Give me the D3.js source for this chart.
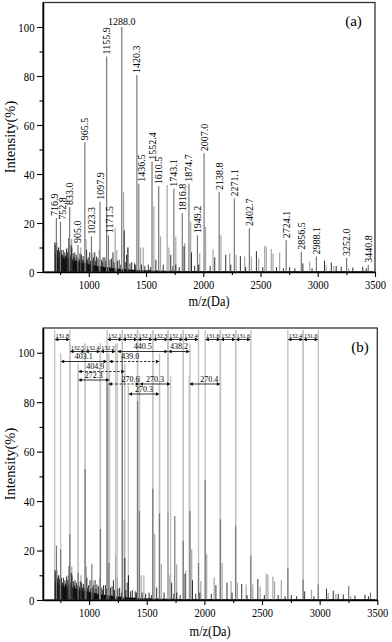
<!DOCTYPE html>
<html><head><meta charset="utf-8">
<script src="https://cdn.jsdelivr.net/npm/d3@7"></script>
<style>body{margin:0;background:#fff}svg{display:block}text{font-family:"Liberation Serif","Times New Roman",serif;fill:#000}</style>
</head><body><svg id="c" width="392" height="642"></svg>
<script>
// ---------- data ----------
const labeledMz  = [716.9,752.8,833.0,905.0,965.5,1023.3,1097.9,1155.9,1171.5,1288.0,1420.3,1436.5,1552.4,1610.5,1743.1,1816.8,1874.7,1949.2,2007.0,2138.8,2271.1,2402.7,2724.1,2856.5,2988.1,3252.0,3440.8];
const labeledInt = [22,20.5,26.5,11,53,14.5,28.7,88,15,100,80.4,36,45,35,34,24,36,15,48.5,32.7,30,18,13,8.3,6.3,5.7,3];
const labeledTxt = ["716.9","752.8","833.0","905.0","965.5","1023.3","1097.9","1155.9","1171.5","1288.0","1420.3","1436.5","1552.4","1610.5","1743.1","1816.8","1874.7","1949.2","2007.0","2138.8","2271.1","2402.7","2724.1","2856.5","2988.1","3252.0","3440.8"];

const grayMz  = [701.2,738,818,850,930,976,1035,1090,1230.1,1244,1304.0,1340.2,1452,1475,1568.6,1626,1684.5,1700,1760,1838,1890,1969,2020,2085,2154,2231,2287,2362,2420,2484,2536,2551,2594,2609,2667,2929,3074,3140,3270];
const grayInt = [12.2,10,10,13.5,10,13.5,8,9,18,9,32.5,10,10,10,26.7,14.5,35.5,10,14.4,11.8,20.5,7.7,18.5,9.2,15,7.7,7,6.3,6.3,5.5,10.6,10.3,9.4,7.6,8,4.2,2.8,2.5,1.5];

const noiseMz  = [705,712,720,727,735,745,760,770,777,790,798,805,815,826,838,845,852,864,871,878,890,898,915,923,935,943,950,958,981,988,995,1008,1015,1030,1040,1052,1060,1068,1080,1110,1118,1125,1141,1150,1185,1199,1211,1220,1250,1265,1280,1309.9,1318,1330,1342,1360,1375,1400,1410,1460,1490,1520,1540,1586,1650,1716,1735,1760,1790,1832,1897,1925,1960,2060,2100,2196,2240,2324,2370,2464,2520,2640,2700,2754,2800,2870,2950,3059,3118,3161,3205,3306,3393,3423];
const noiseInt = [12,11,12,9,10,8.5,9,7,9,8,6.5,9.5,8,13.8,7,11,10,7.6,6,8,7,6,5.5,7.6,7,5,6.5,5,9,5,6,8,4.5,5,6,8,4.5,6.3,5.5,5,4,6,6,4.5,5,5.5,8,4,4.5,5,3,17,4,7,10,3.5,4,3.5,3,3,2.5,3,2,5,3,7,2.5,3,2,10.6,8,2.5,3,2.5,6,7,3,6.5,2,8.5,2,2,1.5,2,1.5,3.5,1.5,4.6,3.8,2.5,2.2,1.8,2.2,1.5];

const envMz  = [700,701,710,718,725,732,740,748,755,763,770,778,786,794,802,810,818,826,834,842,850,858,866,874,882,890,898,906,914,922,930,938,946,954,962,970,978,986,994,1002,1010,1018,1026,1034,1042,1050,1058,1066,1074,1082,1090,1098,1106,1114,1122,1130,1138,1146,1154,1162,1170,1178,1186,1194,1202,1210,1220,1230,1240,1250,1260,1270,1280,1290,1300,1315,1330,1345,1360,1375,1390,1405,1420,1440,1460,1480,1500,1530,1560,1600,1650,1700,1800,1900,2000,2200,2500,2800,3100,3480,3481];
const envInt = [0,8,7,8.5,6,7.5,5.5,7,6,8,5,6.5,5,7,5.5,6,4.5,7,5,6.5,4.5,5.5,4,6,4.5,5,3.8,5.2,4,4.8,3.5,4.6,3.4,4.2,3.2,4.4,3,3.8,3,3.6,2.8,3.4,2.6,3.2,2.5,3,2.4,2.8,2.2,2.7,2.1,2.6,2,2.4,1.9,2.3,1.8,2.2,1.7,2.1,1.6,2,1.5,1.9,1.4,1.8,1.3,1.7,1.2,1.6,1.1,1.5,1,1.4,1,1.3,0.9,1.2,0.8,1.1,0.8,1,0.7,0.9,0.6,0.8,0.6,0.7,0.5,0.6,0.5,0.5,0.4,0.4,0.4,0.3,0.3,0.3,0.3,0.3,0];

const xTicks = [1000,1500,2000,2500,3000,3500];
const xMinor = [750,1250,1750,2250,2750,3250];
const yTicks = [0,20,40,60,80,100];
const yMinor = [10,30,50,70,90];

// annotations for panel (b): mass differences
const annFrom  = [701.2,1155.9,1288.0,1420.3,1552.4,1684.5,1816.8,2007.0,2138.8,2271.1,2724.1,2856.5, 833.0,965.5,1097.9,1244.0,1684.5, 752.8,1171.5, 905.0, 905.0,1165.9,1436.5,1868.4, 1340.2];
const annTo    = [833.0,1288.0,1420.3,1552.4,1684.5,1816.8,1949.2,2138.8,2271.1,2402.7,2856.5,2988.1, 965.5,1097.9,1230.1,1684.5,1874.7, 1155.9,1610.5, 1309.9, 1177.3,1436.5,1706.8,2138.8, 1610.5];
const annLabel = ["131.8","132.1","132.3","132.1","132.3","132.1","132.4","131.6","132.3","131.6","132.4","131.6", "132.5","132.4","132.2","440.5","438.2", "403.1","439.0", "404.9", "272.3","270.6","270.3","270.4", "270.3"];
const annRow   = [0,0,0,0,0,0,0,0,0,0,0,0, 1,1,1,1,1, 2,2, 3, 4,5,5,5, 6];
const annDash  = [0,0,0,0,0,0,0,0,0,0,0,0, 0,0,0,0,0, 0,1, 1, 0,1,0,0, 0];
const annLabelMz = [null,null,null,null,null,null,null,null,null,null,null,null, null,null,null,null,null, null,1356, 1053, null,1359,null,2042, null];

// ---------- layout config ----------
const labelNudge = {"716.9":-2.2, "752.8":1.6, "1436.5":2.6, "1171.5":1.2, "1155.9":-0.5};
const rowY = [339.5, 351.5, 361.5, 371.5, 380, 384, 394];

// ---------- drawing ----------
const svg = d3.select("#c");
svg.append("rect").attr("width",392).attr("height",642).attr("fill","#fff");

const panels = [
  {top:2.5, bottom:272, right:375, tag:"(a)", tagX:353.5, tagY:25.5, titleY:305.5, yTitleC:137, labels:true},
  {top:328, bottom:600, right:377.3, tag:"(b)", tagX:360, tagY:352, titleY:636, yTitleC:464, labels:false}
];

function condense(sel, f){
  sel.each(function(){
    const L = this.getComputedTextLength();
    d3.select(this).attr("textLength", (L*f).toFixed(2)).attr("lengthAdjust","spacingAndGlyphs");
  });
}

panels.forEach((p, pi) => {
  const g = svg.append("g");
  const x = d3.scaleLinear().domain([600,3500]).range([43, p.right]);
  const y = d3.scaleLinear().domain([0,110]).range([p.bottom, p.top]);

  // annotation guide lines (panel b)
  if (!p.labels) {
    const ends = [];
    annFrom.forEach((f,i)=>{ ends.push([f, annRow[i]]); ends.push([annTo[i], annRow[i]]); });
    g.append("g").selectAll("line").data(ends).join("line")
      .attr("x1", d=>x(d[0])).attr("x2", d=>x(d[0]))
      .attr("y1", y(0)).attr("y2", d=>rowY[d[1]] - (d[1]===0 ? 9.5 : 8))
      .attr("stroke","#c4c4c4").attr("stroke-width",1.4);
  }

  // dense low-intensity noise envelope
  const area = d3.area().x(d=>x(d[0])).y0(y(0)).y1(d=>y(d[1]));
  g.append("path").datum(d3.zip(envMz, envInt)).attr("d", area).attr("fill","#000");

  // unlabeled gray peaks
  g.append("g").selectAll("line").data(d3.zip(grayMz, grayInt)).join("line")
    .attr("x1", d=>x(d[0])).attr("x2", d=>x(d[0])).attr("y1", y(0)).attr("y2", d=>y(d[1]))
    .attr("stroke","#a6a6a6").attr("stroke-width",1.2);
  // noise spikes
  g.append("g").selectAll("line").data(d3.zip(noiseMz, noiseInt)).join("line")
    .attr("x1", d=>x(d[0])).attr("x2", d=>x(d[0])).attr("y1", y(0)).attr("y2", d=>y(d[1]))
    .attr("stroke","#1a1a1a").attr("stroke-width",0.9);
  // labeled peaks
  const lab = d3.zip(labeledMz, labeledInt, labeledTxt);
  g.append("g").selectAll("line").data(lab).join("line")
    .attr("x1", d=>x(d[0])).attr("x2", d=>x(d[0])).attr("y1", y(0)).attr("y2", d=>y(d[1]))
    .attr("stroke","#787878").attr("stroke-width",1.2);

  if (p.labels) {
    const tg = g.append("g").attr("font-size","10px");
    lab.forEach(d => {
      const nx = labelNudge[d[2]] || 0;
      if (d[1] >= 99) {
        tg.append("text").attr("x", x(d[0])).attr("y", y(d[1]) - 2.5).attr("text-anchor","middle").text(d[2]);
      } else {
        tg.append("text").attr("transform", `translate(${x(d[0]) + nx},${y(d[1]) - 2})rotate(-90)`)
          .attr("dy","0.35em").attr("text-anchor","start").text(d[2]);
      }
    });
  } else {
    // arrows
    const ag = g.append("g");
    annFrom.forEach((f,i) => {
      const x1 = x(f), x2 = x(annTo[i]), yy = rowY[annRow[i]];
      const ah = 3.6, aw = 1.7;
      ag.append("line").attr("x1", x1+ah-0.5).attr("x2", x2-ah+0.5).attr("y1", yy).attr("y2", yy)
        .attr("stroke","#000").attr("stroke-width",0.8).attr("stroke-dasharray", annDash[i] ? "2.4,1.6" : null);
      ag.append("path").attr("d", `M${x1},${yy}L${x1+ah},${yy-aw}L${x1+ah},${yy+aw}Z`).attr("fill","#000");
      ag.append("path").attr("d", `M${x2},${yy}L${x2-ah},${yy-aw}L${x2-ah},${yy+aw}Z`).attr("fill","#000");
      const small = (x2 - x1) < 20;
      const lx = annLabelMz[i] != null ? x(annLabelMz[i]) : (x1+x2)/2;
      ag.append("text").attr("x", lx).attr("y", yy - (small ? 1.8 : 2.2))
        .attr("text-anchor","middle").attr("font-size", small ? "6px" : "8px").text(annLabel[i]);
    });
  }

  // frame
  g.append("rect").attr("x",43).attr("y",p.top).attr("width",p.right-43).attr("height",p.bottom-p.top)
    .attr("fill","none").attr("stroke","#333").attr("stroke-width",1.3);

  // axes
  const fmt = d3.format("d");
  const yMaj = g.append("g").attr("transform","translate(43,0)")
    .call(d3.axisLeft(y).tickValues(yTicks).tickFormat(fmt).tickSize(6).tickPadding(2.5).tickSizeOuter(0));
  g.append("g").attr("transform","translate(43,0)")
    .call(d3.axisLeft(y).tickValues(yMinor).tickSize(3.5).tickFormat("").tickSizeOuter(0))
    .call(s=>s.select(".domain").remove());
  const xMaj = g.append("g").attr("transform",`translate(0,${p.bottom})`)
    .call(d3.axisBottom(x).tickValues(xTicks).tickFormat(fmt).tickSize(5).tickPadding(3.5).tickSizeOuter(0));
  g.append("g").attr("transform",`translate(0,${p.bottom})`)
    .call(d3.axisBottom(x).tickValues(xMinor).tickSize(3).tickFormat("").tickSizeOuter(0))
    .call(s=>s.select(".domain").remove());
  [yMaj, xMaj].forEach(a => {
    a.select(".domain").attr("stroke","#000").attr("stroke-width",1.5);
    a.selectAll("text").attr("font-family",'"Liberation Serif",serif').attr("font-size","12.5px").attr("fill","#000");
  });
  g.selectAll(".tick line").attr("stroke","#000").attr("stroke-width",1.1);
  condense(yMaj.selectAll("text"), 0.86);
  condense(xMaj.selectAll("text"), 0.84);

  // titles
  const xt = g.append("text").attr("x", (43+p.right)/2).attr("y", p.titleY).attr("text-anchor","middle")
    .attr("font-size","14px").text("m/z(Da)");
  condense(xt, 0.88);
  g.append("text").attr("transform",`translate(14.5,${p.yTitleC})rotate(-90)`).attr("text-anchor","middle")
    .attr("font-size","14.5px").text("Intensity(%)");
  g.append("text").attr("x", p.tagX).attr("y", p.tagY).attr("text-anchor","middle").attr("font-size","15px").text(p.tag);
});
</script></body></html>
